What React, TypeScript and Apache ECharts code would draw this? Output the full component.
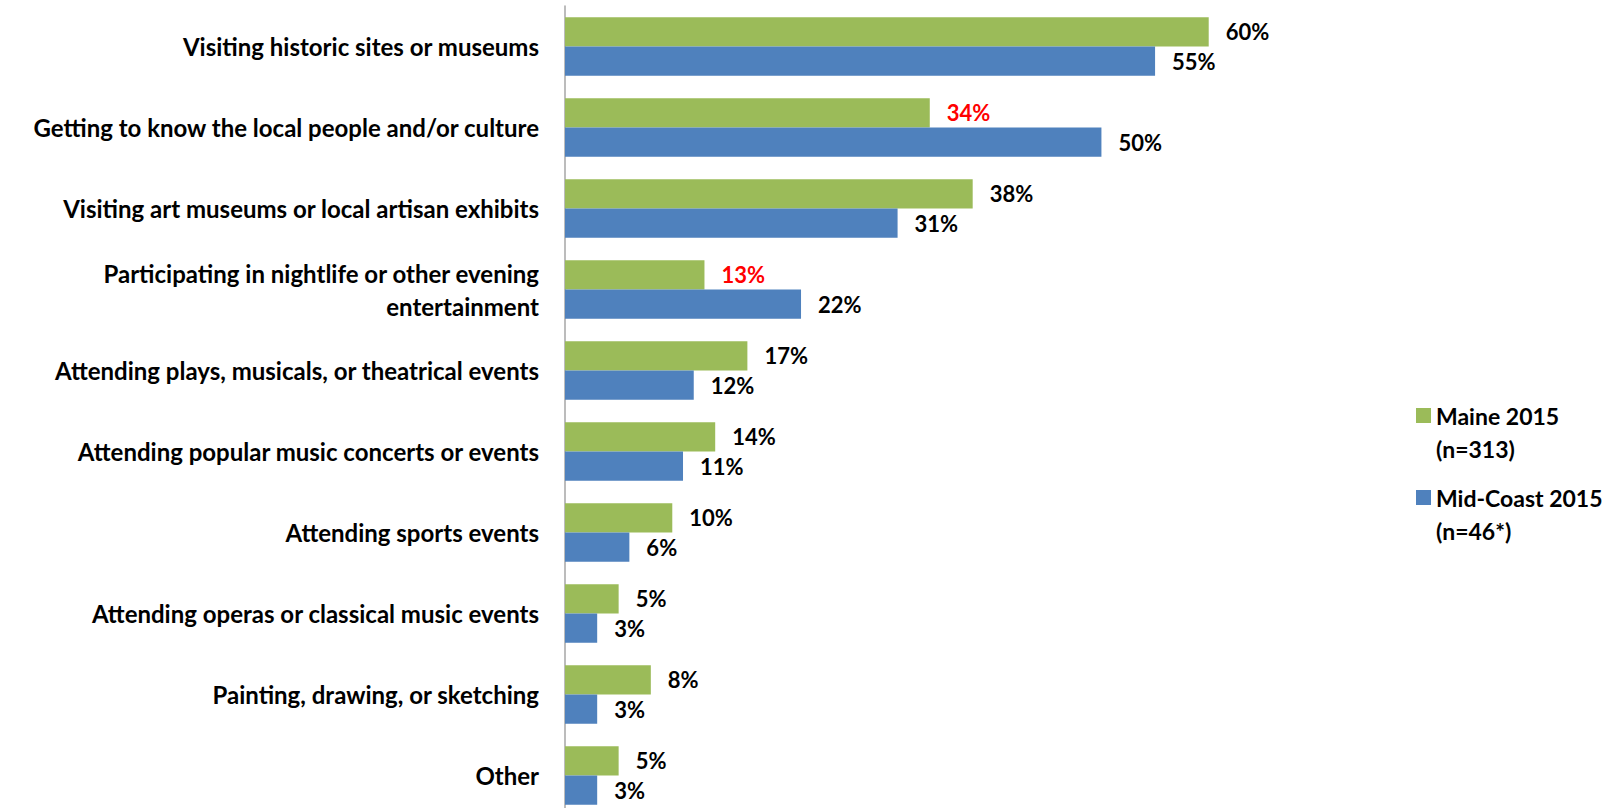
import React, { useEffect, useRef } from "react";
import * as echarts from "echarts";

const categories = [
  "Visiting historic sites or museums",
  "Getting to know the local people and/or culture",
  "Visiting art museums or local artisan exhibits",
  "Participating in nightlife or other evening\nentertainment",
  "Attending plays, musicals, or theatrical events",
  "Attending popular music concerts or events",
  "Attending sports events",
  "Attending operas or classical music events",
  "Painting, drawing, or sketching",
  "Other",
];
const maineValues = [60, 34, 38, 13, 17, 14, 10, 5, 8, 5];
const midCoastValues = [55, 50, 31, 22, 12, 11, 6, 3, 3, 3];
const highlightedMaine = [1, 3];
const seriesNames = ["Maine 2015", "Mid-Coast 2015"];
const legendLabels = ["Maine 2015\n(n=313)", "Mid-Coast 2015\n(n=46*)"];

const FONT = "Lato";
const GREEN = "#9BBB59";
const BLUE = "#4F81BD";

export default function App() {
  const ref = useRef<HTMLDivElement>(null);
  useEffect(() => {
    if (!ref.current) return;
    const chart = echarts.init(ref.current, null, { renderer: "svg" });
    const labelBase = {
      show: true,
      position: "right",
      distance: 17,
      fontFamily: FONT,
      fontWeight: "bold",
      fontSize: 22,
      color: "#000",
      formatter: "{c}%",
    };
    const legendText = {
      fontFamily: FONT,
      fontWeight: "bold",
      fontSize: 23,
      color: "#000",
      lineHeight: 33,
    };
    const makeLegend = (i: number, top: number) => ({
      data: [seriesNames[i]],
      left: 1411,
      top,
      orient: "vertical",
      itemWidth: 15,
      itemHeight: 15,
      itemGap: 6,
      icon: "rect",
      formatter: () => "\n" + legendLabels[i],
      textStyle: legendText,
      selectedMode: false,
    });
    chart.setOption({
      animation: false,
      grid: {
        left: 565,
        top: 6,
        width: 751,
        height: 810,
        containLabel: false,
        outerBoundsMode: "none",
      },
      xAxis: {
        type: "value",
        min: 0,
        max: 70,
        show: false,
      },
      yAxis: {
        type: "category",
        inverse: true,
        data: categories,
        axisLine: { show: true, lineStyle: { color: "#A6A6A6", width: 1.5 } },
        axisTick: { show: false },
        axisLabel: {
          margin: 26,
          fontFamily: FONT,
          fontWeight: "bold",
          fontSize: 24,
          color: "#000",
          lineHeight: 33,
          align: "right",
        },
      },
      legend: [makeLegend(0, 361), makeLegend(1, 443)],
      series: [
        {
          name: seriesNames[0],
          type: "bar",
          barGap: "0%",
          barCategoryGap: "28%",
          itemStyle: { color: GREEN },
          label: labelBase,
          data: maineValues.map((v, i) =>
            highlightedMaine.includes(i)
              ? { value: v, label: { color: "#FF0000" } }
              : v
          ),
        },
        {
          name: seriesNames[1],
          type: "bar",
          itemStyle: { color: BLUE },
          label: labelBase,
          data: midCoastValues,
        },
      ],
    });
    return () => chart.dispose();
  }, []);
  return (
    <div
      ref={ref}
      style={{ position: "absolute", left: 0, top: 0, width: 1623, height: 808 }}
    />
  );
}
